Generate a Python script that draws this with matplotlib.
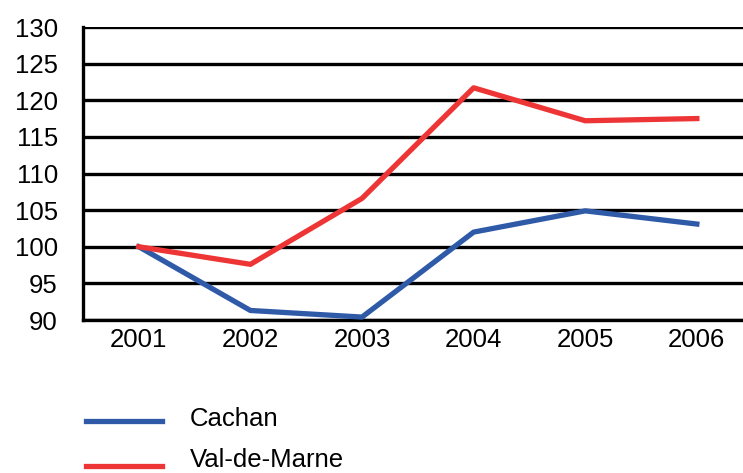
import matplotlib
matplotlib.use("Agg")
import matplotlib.pyplot as plt
from matplotlib.lines import Line2D

plt.rcParams["font.family"] = ["Liberation Sans", "DejaVu Sans"]

years = [2001, 2002, 2003, 2004, 2005, 2006]
cachan = [100.0, 91.3, 90.4, 102.0, 104.9, 103.1]
val_de_marne = [100.0, 97.6, 106.6, 121.7, 117.2, 117.5]
y_ticks = [90, 95, 100, 105, 110, 115, 120, 125, 130]
series_names = ["Cachan", "Val-de-Marne"]

BLUE = "#2f5aa8"
RED = "#ee3535"
W, H = 743, 473

fig = plt.figure(figsize=(W / 100, H / 100), dpi=100)
ax = fig.add_axes([83 / W, 1 - 320 / H, 1 - 83 / W + 0.01, 293 / H])

for y in y_ticks:
    ax.axhline(y, color="black", linewidth=2.4, zorder=1)

ax.plot(years, cachan, color=BLUE, linewidth=3.8, zorder=3)
ax.plot(years, val_de_marne, color=RED, linewidth=3.8, zorder=3)

ax.set_xlim(2000.5, 2006.48)
ax.set_ylim(90, 130)
ax.set_yticks(y_ticks)
ax.set_xticks(years)
ax.tick_params(axis="both", length=0, labelsize=18.5)
ax.tick_params(axis="y", pad=18)
ax.tick_params(axis="x", pad=6)
for side in ["top", "right"]:
    ax.spines[side].set_visible(False)
for side in ["left", "bottom"]:
    ax.spines[side].set_linewidth(2.4)

# legend drawn by hand, below the plot
for name, color, line_y, text_y in [
    (series_names[0], BLUE, 421, 426),
    (series_names[1], RED, 466, 467),
]:
    fig.add_artist(Line2D([86 / W, 162 / W], [1 - line_y / H] * 2,
                          color=color, linewidth=3.8))
    fig.text(190 / W, 1 - text_y / H, name, fontsize=18.5, va="baseline")

fig.savefig("out.png", dpi=100)
